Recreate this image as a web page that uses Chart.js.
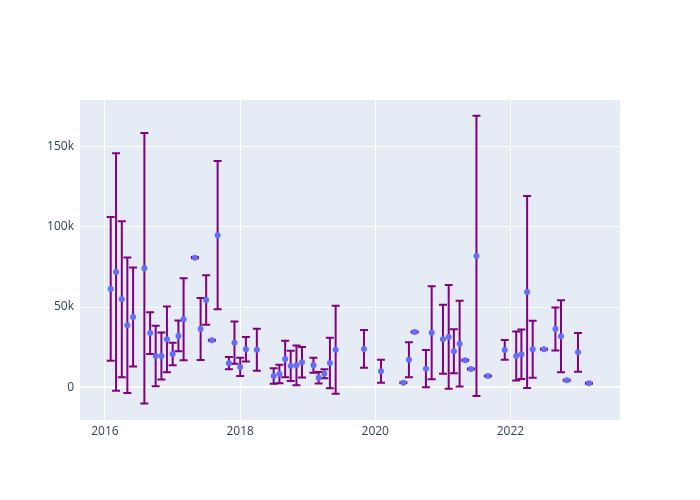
<!DOCTYPE html>
<html>
<head>
<meta charset="utf-8">
<script src="https://cdn.jsdelivr.net/npm/chart.js@4"></script>
<style>
  body { margin: 0; background: #fff; }
  #wrap { width: 700px; height: 500px; }
</style>
</head>
<body>
<div id="wrap"><canvas id="chart" width="700" height="500"></canvas></div>
<script>
// one point per month (first day of month)
const months = [
  '2016-02','2016-03','2016-04','2016-05','2016-06','2016-08','2016-09','2016-10','2016-11','2016-12',
  '2017-01','2017-02','2017-03','2017-05','2017-06','2017-07','2017-08','2017-09','2017-11','2017-12',
  '2018-01','2018-02','2018-04','2018-07','2018-08','2018-09','2018-10','2018-11','2018-12',
  '2019-02','2019-03','2019-04','2019-05','2019-06','2019-11',
  '2020-02','2020-06','2020-07','2020-08','2020-10','2020-11',
  '2021-01','2021-02','2021-03','2021-04','2021-05','2021-06','2021-07','2021-09','2021-12',
  '2022-02','2022-03','2022-04','2022-05','2022-07','2022-09','2022-10','2022-11',
  '2023-01','2023-03'
];
const values = [
  61300, 71900, 54900, 38700, 43800, 74200, 33800, 19500, 19500, 29900,
  20800, 32000, 42400, 80800, 36300, 54400, 29300, 94800, 15000, 27800,
  12700, 23700, 23400, 7000, 8300, 17600, 13300, 13700, 15600,
  13700, 6000, 8500, 15100, 23400, 23900,
  10000, 2900, 17200, 34500, 11600, 34000,
  29900, 31400, 22400, 27200, 16800, 11400, 81900, 7000, 23300,
  19500, 20600, 59400, 23700, 23700, 36300, 31800, 4400,
  21800, 2500
];
const errors = [
  44800, 74000, 48600, 42200, 30900, 84300, 13000, 18900, 14600, 20500,
  7000, 9600, 25600, 400, 19300, 15400, 300, 46200, 3800, 13200,
  5700, 7700, 13100, 4800, 5800, 11400, 9400, 12400, 9500,
  4700, 3600, 2800, 15700, 27500, 11800,
  7200, 300, 10900, 300, 11600, 29000,
  21500, 32300, 13700, 26700, 300, 300, 87400, 300, 6100,
  15300, 15400, 59800, 17700, 300, 13400, 22400, 300,
  12100, 300
];
const xTickYears = [2016, 2018, 2020, 2022];
const yTickValues = [0, 50000, 100000, 150000];

function monthToMs(s) {
  const p = s.split('-');
  return Date.UTC(+p[0], +p[1] - 1, 1);
}

const points = months.map((m, i) => ({ x: monthToMs(m), y: values[i], err: errors[i] }));

const fontSpec = { family: '"Open Sans", "DejaVu Sans", sans-serif', size: 12 };

const errorBars = {
  id: 'errorBars',
  beforeDatasetsDraw(chart) {
    const ctx = chart.ctx;
    const xs = chart.scales.x, ys = chart.scales.y;
    ctx.save();
    ctx.beginPath();
    ctx.rect(chart.chartArea.left, chart.chartArea.top, chart.chartArea.width, chart.chartArea.height);
    ctx.clip();
    ctx.strokeStyle = 'purple';
    ctx.lineWidth = 2;
    points.forEach(p => {
      const px = xs.getPixelForValue(p.x);
      const top = ys.getPixelForValue(p.y + p.err);
      const bot = ys.getPixelForValue(p.y - p.err);
      ctx.beginPath();
      ctx.moveTo(px, top); ctx.lineTo(px, bot);
      ctx.moveTo(px - 4, top); ctx.lineTo(px + 4, top);
      ctx.moveTo(px - 4, bot); ctx.lineTo(px + 4, bot);
      ctx.stroke();
    });
    ctx.restore();
  }
};

const bgPlugin = {
  id: 'plotBg',
  beforeDraw(chart) {
    const a = chart.chartArea, ctx = chart.ctx;
    ctx.save();
    ctx.fillStyle = '#E5ECF6';
    ctx.fillRect(a.left, a.top, a.right - a.left, a.bottom - a.top);
    ctx.restore();
  }
};

new Chart(document.getElementById('chart'), {
  type: 'scatter',
  data: {
    datasets: [{
      data: points,
      backgroundColor: '#636efa',
      borderWidth: 0,
      pointRadius: 3,
      pointHoverRadius: 3
    }]
  },
  options: {
    responsive: false,
    animation: false,
    layout: { padding: { left: 0, top: 100, right: 80, bottom: 0 } },
    plugins: { legend: { display: false }, tooltip: { enabled: false } },
    scales: {
      x: {
        type: 'linear',
        min: Date.UTC(2015, 7, 19),
        max: Date.UTC(2023, 7, 16),
        afterBuildTicks(scale) {
          scale.ticks = xTickYears.map(y => ({ value: Date.UTC(y, 0, 1) }));
        },
        afterFit(scale) { scale.height = 80; },
        border: { display: false },
        grid: { color: '#ffffff', lineWidth: 1, drawTicks: false },
        ticks: {
          color: '#2a3f5f', font: fontSpec, padding: 4, maxRotation: 0,
          callback: v => String(new Date(v).getUTCFullYear())
        }
      },
      y: {
        min: -20400,
        max: 179100,
        afterBuildTicks(scale) {
          scale.ticks = yTickValues.map(v => ({ value: v }));
        },
        afterFit(scale) { scale.width = 80; },
        border: { display: false },
        grid: {
          color: '#ffffff',
          lineWidth: c => (c.tick && c.tick.value === 0 ? 2 : 1),
          drawTicks: false
        },
        ticks: {
          color: '#2a3f5f', font: fontSpec, padding: 6,
          callback: v => (v === 0 ? '0' : (v / 1000) + 'k')
        }
      }
    }
  },
  plugins: [bgPlugin, errorBars]
});
</script>
</body>
</html>
